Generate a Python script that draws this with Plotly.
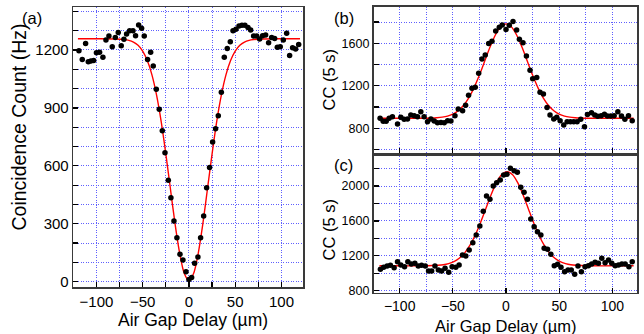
import plotly.graph_objects as go

# ---------------- data ----------------
# Panel (a): coincidence count (Hz) vs air gap delay (um)
a_x = [-118.9, -115.3, -111.7, -108.8, -106.0, -103.0, -100.0, -96.6, -93.0, -89.7,
       -86.5, -82.9, -79.6, -76.4, -73.2, -70.3, -67.4, -64.1, -60.5, -57.7,
       -54.4, -51.2, -48.3, -44.7, -41.4, -38.6, -35.3, -32.1, -28.8, -25.9,
       -22.3, -19.5, -16.2, -13.0, -9.7, -6.5, -3.2, 0.0, 2.9, 6.1,
       9.7, 12.6, 15.9, 19.1, 22.3, 25.6, 28.8, 31.7, 35.0, 38.2,
       41.4, 44.7, 47.6, 50.8, 54.1, 57.3, 60.5, 63.8, 66.7, 69.9,
       73.2, 76.4, 79.6, 82.9, 86.1, 89.4, 92.6, 95.5, 98.7, 102.0,
       105.6, 108.8, 112.0, 115.3, 118.6]
a_y = [1196, 1151, 1234, 1139, 1143, 1146, 1186, 1188, 1162, 1252,
       1272, 1217, 1264, 1291, 1222, 1255, 1283, 1300, 1300, 1274,
       1329, 1312, 1272, 1151, 1188, 1117, 996, 893, 782, 668,
       525, 435, 314, 228, 142, 112, 52, 12, 22, 95,
       128, 228, 340, 487, 592, 723, 792, 860, 981, 1162,
       1207, 1243, 1300, 1307, 1324, 1328, 1328, 1316, 1303, 1272,
       1272, 1257, 1274, 1278, 1238, 1264, 1259, 1214, 1217, 1252,
       1286, 1171, 1212, 1205, 1229]
a_fit_x = [-120, -100, -80, -70, -65, -60, -55, -50, -45, -40, -35, -30, -25, -20, -15, -10, -5,
           0, 5, 10, 15, 20, 25, 30, 35, 40, 45, 50, 55, 60, 65, 70, 80, 100, 120]
a_fit_y = [1258, 1258, 1257, 1254, 1250, 1241, 1224, 1194, 1145, 1071, 966, 829, 662, 480, 299, 146, 42,
           5, 42, 146, 299, 480, 662, 829, 966, 1071, 1145, 1194, 1224, 1241, 1250, 1254, 1257, 1258, 1258]

# Panel (b): CC (5 s)
b_x = [-118.4, -115.5, -112.7, -109.9, -106.8, -102.0, -98.9, -95.8, -92.6, -89.5,
       -86.3, -83.2, -80.1, -77.0, -73.8, -70.6, -67.5, -64.4, -61.2, -58.1,
       -54.9, -51.8, -48.0, -44.9, -40.8, -38.0, -35.2, -32.0, -28.9, -25.7,
       -22.6, -19.5, -16.3, -13.2, -9.7, -6.3, -3.5, 0.0, 3.1, 6.6,
       10.0, 12.6, 16.0, 19.2, 22.6, 25.1, 28.9, 32.0, 35.2, 38.6,
       41.4, 44.9, 47.7, 50.9, 54.3, 57.5, 60.6, 63.7, 66.9, 70.3,
       73.8, 76.6, 80.4, 83.5, 86.3, 89.5, 92.6, 95.4, 98.6, 101.7,
       105.2, 108.6, 111.8, 115.2, 118.7]
b_y = [894, 866, 866, 894, 910, 841, 904, 885, 888, 925,
       919, 910, 957, 910, 863, 888, 869, 853, 856, 853,
       872, 869, 919, 982, 966, 1016, 1111, 1176, 1186, 1318,
       1453, 1490, 1597, 1619, 1716, 1751, 1773, 1729, 1769, 1804,
       1725, 1638, 1606, 1481, 1346, 1267, 1277, 1139, 1123, 995,
       925, 888, 904, 872, 831, 863, 863, 863, 863, 885,
       816, 929, 947, 925, 913, 919, 932, 916, 916, 919,
       957, 916, 885, 919, 872]
b_fit_x = [-120, -100, -80, -70, -65, -60, -55, -50, -45, -40, -35, -30, -25, -20, -15, -10, -5,
           0, 5, 10, 15, 20, 25, 30, 35, 40, 45, 50, 55, 60, 65, 70, 80, 100, 120]
b_fit_y = [895, 895, 895, 897, 900, 905, 915, 934, 966, 1015, 1087, 1183, 1301, 1433, 1564, 1678, 1755,
           1782, 1755, 1678, 1564, 1433, 1301, 1183, 1087, 1015, 966, 934, 915, 905, 900, 897, 895, 895, 895]

# Panel (c): CC (5 s)
c_x = [-118.1, -115.0, -111.8, -108.7, -105.2, -102.0, -98.9, -95.4, -92.3, -89.1,
       -85.7, -82.5, -79.4, -75.9, -72.8, -69.9, -66.8, -63.6, -60.5, -57.3,
       -53.9, -50.7, -47.2, -44.1, -40.9, -37.8, -34.6, -31.2, -28.0, -24.6,
       -21.4, -18.3, -15.1, -12.0, -8.8, -5.4, -2.2, 0.9, 4.1, 7.6,
       10.7, 13.9, 17.0, 20.2, 23.3, 26.5, 29.6, 32.8, 35.9, 39.1,
       42.2, 45.4, 48.5, 51.7, 55.1, 58.3, 61.4, 64.6, 67.7, 70.9,
       74.3, 77.5, 80.6, 83.8, 86.9, 90.1, 93.2, 96.4, 99.5, 102.7,
       105.8, 109.0, 112.1, 115.6, 118.7]
c_y = [1045, 1068, 1083, 1090, 1064, 1132, 1094, 1075, 1132, 1106,
       1113, 1083, 1090, 1083, 1025, 1025, 1083, 1037, 1025, 1056,
       1010, 1075, 1068, 1094, 1209, 1197, 1266, 1350, 1438, 1541,
       1710, 1885, 1847, 2000, 2038, 2069, 2126, 2134, 2203, 2176,
       2157, 1985, 1927, 1847, 1622, 1534, 1476, 1438, 1285, 1274,
       1217, 1087, 1102, 1068, 1018, 1037, 1037, 987, 1083, 1018,
       1075, 1087, 1106, 1125, 1113, 1171, 1121, 1152, 1113, 1087,
       1094, 1106, 1106, 1075, 1132]
c_fit_x = [-119, -99, -79, -69, -64, -59, -54, -49, -44, -39, -34, -29, -24, -19, -14, -9, -4,
           1, 6, 11, 16, 21, 26, 31, 36, 41, 46, 51, 56, 61, 66, 71, 81, 101, 120]
c_fit_y = [1085, 1085, 1085, 1088, 1091, 1097, 1110, 1132, 1171, 1231, 1319, 1436, 1579, 1740, 1900, 2038, 2131,
           2165, 2131, 2038, 1900, 1740, 1579, 1436, 1319, 1231, 1171, 1132, 1110, 1097, 1091, 1088, 1085, 1085, 1085]

panel_labels = ["(a)", "(b)", "(c)"]
x_title = "Air Gap Delay (µm)"
y_title_a = "Coincidence Count (Hz)"
y_title_bc = "CC (5 s)"

# ---------------- figure ----------------
W, H = 644, 334
FONT = "Liberation Sans, Arial, sans-serif"
GRID = "rgb(95,95,255)"
GRID_DASH = "1px,1.5px"
FRAME = "#3a3a3a"

def px(x):
    return x / W

def py(y):
    return 1 - y / H

fig = go.Figure()

def add_panel(xs, ys, fx, fy, xa, ya):
    fig.add_trace(go.Scatter(x=fx, y=fy, mode="lines", line=dict(color="#ff0000", width=1.4, shape="spline", smoothing=0.8),
                             xaxis=xa, yaxis=ya, hoverinfo="skip", showlegend=False))
    fig.add_trace(go.Scatter(x=xs, y=ys, mode="markers", marker=dict(color="black", size=5.5),
                             xaxis=xa, yaxis=ya, showlegend=False))

add_panel(a_x, a_y, a_fit_x, a_fit_y, "x", "y")
add_panel(b_x, b_y, b_fit_x, b_fit_y, "x2", "y2")
add_panel(c_x, c_y, c_fit_x, c_fit_y, "x3", "y3")

def axis(domain, rng, dtick, minor_dtick, anchor, tick_size, labels=True, minor_ticks=True):
    return dict(
        domain=domain, range=rng, anchor=anchor, autorange=False,
        tick0=0, dtick=dtick, ticks="inside", ticklen=5, tickwidth=1.3, tickcolor="black",
        showticklabels=labels, tickfont=dict(family=FONT, size=tick_size, color="black"),
        showgrid=True, gridcolor=GRID, griddash=GRID_DASH, gridwidth=1,
        minor=dict(dtick=minor_dtick, tick0=0, showgrid=True, gridcolor=GRID, griddash=GRID_DASH, gridwidth=1,
                   ticks="inside" if minor_ticks else "", ticklen=5, tickwidth=1.3, tickcolor="black"),
        zeroline=False, showline=True, linecolor=FRAME, linewidth=1.6, mirror=True,
        automargin=False, fixedrange=True,
    )

xa_dom = [px(73.3), px(303.3)]
ya_dom = [py(287.3), py(7.3)]
xb_dom = [px(373.5), px(637.0)]
yb_dom = [py(153.0), py(6.7)]
yc_dom = [py(292.5), py(156.0)]

fig.update_layout(
    width=W, height=H, margin=dict(l=0, r=0, t=0, b=0),
    paper_bgcolor="white", plot_bgcolor="white",
    font=dict(family=FONT, color="black"),
    xaxis=axis(xa_dom, [-125, 123.6], 50, 25, "y", 15),
    yaxis=axis(ya_dom, [-29, 1421], 300, 100, "x", 15),
    xaxis2=axis(xb_dom, [-124.6, 123.2], 50, 25, "y2", 14, labels=False, minor_ticks=False),
    yaxis2=axis(yb_dom, [568, 1944], 400, 200, "x2", 12.5),
    xaxis3=axis(xb_dom, [-124.6, 123.2], 50, 25, "y3", 14, minor_ticks=False),
    yaxis3=axis(yc_dom, [779, 2344], 400, 200, "x3", 12.5),
)

ann = []
def text(x, y, s, size, angle=0):
    ann.append(dict(x=px(x), y=py(y), xref="paper", yref="paper", text=s, showarrow=False,
                    xanchor="center", yanchor="middle", textangle=angle,
                    font=dict(family=FONT, size=size, color="black")))

text(31.7, 17.5, panel_labels[0], 16.5)
text(344, 18.5, panel_labels[1], 16.5)
text(343, 165, panel_labels[2], 16.5)
text(19, 127.5, y_title_a, 19.5, -90)
text(328.5, 80, y_title_bc, 16.5, -90)
text(328.5, 230, y_title_bc, 16.5, -90)
text(193.3, 319.5, x_title, 17.5)
text(505.8, 326.0, x_title, 16.5)
fig.update_layout(annotations=ann)

fig.write_html("out.html", config={"displayModeBar": False, "staticPlot": True},
               post_script="document.body.style.margin='0';document.body.style.overflow='hidden';")
